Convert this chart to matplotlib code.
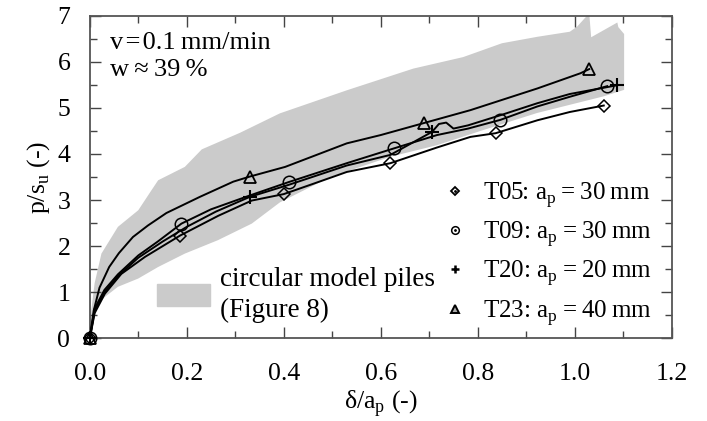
import matplotlib
matplotlib.use('Agg')
import matplotlib.pyplot as plt
from matplotlib.lines import Line2D
from matplotlib.patches import Patch
from matplotlib.ticker import MultipleLocator

plt.rcParams['font.family'] = ['Liberation Serif', 'DejaVu Serif']
plt.rcParams['mathtext.fontset'] = 'custom'
plt.rcParams['mathtext.rm'] = 'Liberation Serif'

# band of circular model piles (Figure 8): upper edge, then lower edge
band_up_x = [0, 0.003, 0.01, 0.024, 0.058, 0.1, 0.127, 0.141, 0.196, 0.231, 0.31, 0.392,
             0.53, 0.667, 0.77, 0.85, 0.923, 0.99, 1.005, 1.03, 1.034, 1.088, 1.09, 1.102]
band_up_y = [0, 0.6, 1.2, 1.84, 2.42, 2.78, 3.21, 3.43, 3.72, 4.1, 4.46, 4.88,
             5.38, 5.85, 6.1, 6.4, 6.54, 6.65, 6.76, 7.05, 6.53, 6.85, 6.75, 6.6]
band_lo_x = [0, 0.01, 0.031, 0.058, 0.1, 0.141, 0.196, 0.264, 0.334, 0.392, 0.496,
             0.62, 0.716, 0.806, 0.923, 1.06, 1.102]
band_lo_y = [0, 0.68, 0.9, 1.12, 1.3, 1.55, 1.84, 2.13, 2.49, 2.95, 3.5,
             3.94, 4.19, 4.5, 4.89, 5.25, 5.39]

# test curves
t05_x = [0, 0.01, 0.031, 0.065, 0.114, 0.186, 0.265, 0.334, 0.4, 0.46, 0.53, 0.62,
         0.716, 0.785, 0.837, 0.923, 0.99, 1.06]
t05_y = [0, 0.55, 0.97, 1.4, 1.77, 2.23, 2.66, 2.99, 3.13, 3.35, 3.61, 3.8,
         4.14, 4.37, 4.45, 4.73, 4.91, 5.05]
t09_x = [0, 0.01, 0.03, 0.058, 0.1, 0.14, 0.189, 0.25, 0.33, 0.41, 0.53, 0.627,
         0.716, 0.78, 0.847, 0.923, 0.99, 1.067]
t09_y = [0, 0.65, 1.05, 1.39, 1.8, 2.1, 2.49, 2.8, 3.1, 3.39, 3.8, 4.12,
         4.41, 4.55, 4.74, 5.03, 5.24, 5.47]
t20_x = [0, 0.01, 0.03, 0.058, 0.1, 0.15, 0.2, 0.26, 0.33, 0.41, 0.53, 0.62, 0.706,
         0.72, 0.735, 0.75, 0.78, 0.85, 0.923, 0.99, 1.088]
t20_y = [0, 0.6, 1.0, 1.35, 1.75, 2.1, 2.42, 2.75, 3.07, 3.33, 3.75, 3.98, 4.48,
         4.65, 4.68, 4.55, 4.62, 4.85, 5.1, 5.3, 5.49]
t23_x = [0, 0.008, 0.02, 0.04, 0.06, 0.089, 0.12, 0.158, 0.227, 0.296, 0.33, 0.403,
         0.53, 0.6, 0.689, 0.785, 0.923, 1.012, 1.03]
t23_y = [0, 0.6, 1.1, 1.55, 1.85, 2.2, 2.45, 2.72, 3.07, 3.4, 3.51, 3.72,
         4.23, 4.41, 4.67, 4.95, 5.42, 5.75, 5.84]

# marker positions on each curve
t05_mx = [0, 0.186, 0.4, 0.62, 0.837, 1.06]
t05_my = [0, 2.23, 3.13, 3.8, 4.45, 5.05]
t09_mx = [0, 0.189, 0.41, 0.627, 0.847, 1.067]
t09_my = [0, 2.49, 3.39, 4.12, 4.74, 5.47]
t20_mx = [0, 0.33, 0.706, 1.088]
t20_my = [0, 3.07, 4.48, 5.49]
t23_mx = [0, 0.33, 0.689, 1.03]
t23_my = [0, 3.51, 4.67, 5.84]

ts = '\u2009'
hs = '\u200a'
labels = [f'T05: a$_\\mathregular{{p}}${ts}={ts}30{ts}mm',
          f'T09: a$_\\mathregular{{p}}${ts}={ts}30{ts}mm',
          f'T20: a$_\\mathregular{{p}}${ts}={ts}20{ts}mm',
          f'T23: a$_\\mathregular{{p}}${ts}={ts}40{ts}mm']

fig = plt.figure(figsize=(7.07, 4.21), dpi=100)
ax = fig.add_axes([0.127, 0.196, 0.823, 0.767])

band_color = '#cbcbcb'
ax.fill(band_up_x + band_lo_x[::-1], band_up_y + band_lo_y[::-1],
        color=band_color, lw=0, zorder=1)

lw = 1.4
for x, y in [(t05_x, t05_y), (t09_x, t09_y), (t20_x, t20_y), (t23_x, t23_y)]:
    ax.plot(x, y, color='black', lw=lw, zorder=3)

ax.plot(t05_mx, t05_my, ls='none', marker='D', ms=6.5, mfc='none', mec='black', mew=1.1,
        zorder=4, clip_on=False)
ax.plot(t09_mx, t09_my, ls='none', marker='o', ms=9, mfc='none', mec='black', mew=1.1,
        zorder=4, clip_on=False)
ax.plot(t20_mx, t20_my, ls='none', marker='+', ms=10.5, mec='black', mew=1.5,
        zorder=4, clip_on=False)
ax.plot(t23_mx, t23_my, ls='none', marker='^', ms=8, mfc='none', mec='black', mew=1.3,
        zorder=4, clip_on=False)

ax.set_xlim(0, 1.2)
ax.set_ylim(0, 7)
ax.xaxis.set_major_locator(MultipleLocator(0.2))
ax.xaxis.set_minor_locator(MultipleLocator(0.1))
ax.yaxis.set_major_locator(MultipleLocator(1))
ax.yaxis.set_minor_locator(MultipleLocator(0.5))
ax.xaxis.set_major_formatter(plt.FuncFormatter(lambda v, p: f'{v:.1f}'))
ax.tick_params(which='both', direction='in', top=True, right=True, color='#444444',
               width=1.0, labelsize=18.5)
ax.tick_params(which='major', length=8)
ax.tick_params(which='minor', length=5)
ax.tick_params(axis='x', pad=18)
ax.tick_params(axis='y', pad=14)
for s in ax.spines.values():
    s.set_color('#555555')
    s.set_linewidth(1.3)

ax.set_xlabel('\u03b4/a$_\\mathregular{p}$ (-)', fontsize=18.5, labelpad=1.5)
ax.set_ylabel('p/s$_\\mathregular{u}$ (-)', fontsize=18.5, labelpad=4)

ax.text(0.034, 0.95, f'v{hs}={hs}0.1{ts}mm/min\nw{ts}\u2248{ts}39{ts}%',
        transform=ax.transAxes, ha='left', va='top', fontsize=19, linespacing=1.3)

handles = [
    (Line2D([], [], ls='none', marker='D', ms=4.5, mfc='none', mec='black', mew=1.3),
     Line2D([], [], ls='none', marker='.', ms=2, color='black')),
    (Line2D([], [], ls='none', marker='o', ms=5.5, mfc='none', mec='black', mew=1.1),
     Line2D([], [], ls='none', marker='.', ms=2, color='black')),
    Line2D([], [], ls='none', marker='+', ms=6, mec='black', mew=1.8),
    Line2D([], [], ls='none', marker='^', ms=5.5, mfc='#aaaaaa', mec='black', mew=1.4),
]
leg1 = ax.legend(handles, labels, loc='center right', bbox_to_anchor=(0.966, 0.262),
                 frameon=False, fontsize=18, handlelength=1.0, handletextpad=0.6,
                 labelspacing=0.38, borderpad=0, borderaxespad=0)
ax.add_artist(leg1)
leg2 = ax.legend([Patch(color=band_color)], ['circular model piles\n(Figure 8)'],
                 loc='center left', bbox_to_anchor=(0.115, 0.135), frameon=False,
                 fontsize=19.5, handlelength=1.96, handleheight=0.9, handletextpad=0.37,
                 borderpad=0, borderaxespad=0)
leg2.get_texts()[0].set_linespacing(1.3)

fig.savefig('out.png', dpi=100)
